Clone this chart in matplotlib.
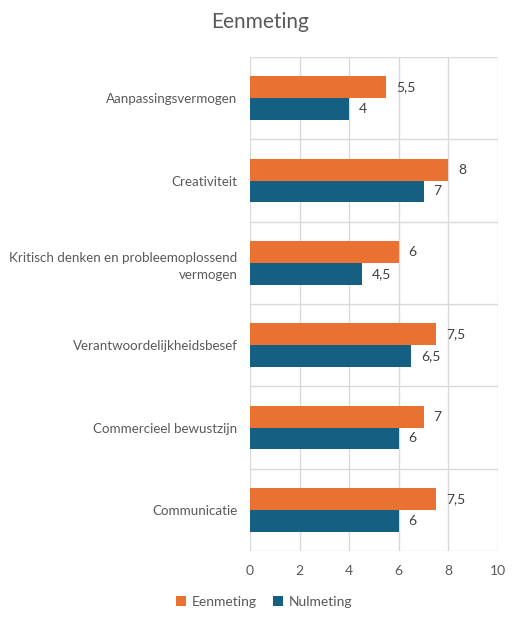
import matplotlib
matplotlib.use("Agg")
import matplotlib.pyplot as plt
import numpy as np

categories = ["Aanpassingsvermogen", "Creativiteit",
              "Kritisch denken en probleemoplossend\nvermogen",
              "Verantwoordelijkheidsbesef", "Commercieel bewustzijn", "Communicatie"]
eenmeting = [5.5, 8, 6, 7.5, 7, 7.5]
nulmeting = [4, 7, 4.5, 6.5, 6, 6]
xticks = [0, 2, 4, 6, 8, 10]

orange = "#E97132"
blue = "#156082"
grid_c = "#D9D9D9"
text_c = "#595959"

plt.rcParams['font.family'] = ['Lato', 'DejaVu Sans']

fig = plt.figure(figsize=(5.21, 6.22), dpi=100)
ax = fig.add_axes([250/521, 1-551/622, 248/521, (551-57)/622])

n = len(categories)
y = np.arange(n)
h = 0.265
ax.barh(y - h/2, eenmeting, height=h, color=orange, label="Eenmeting", zorder=3)
ax.barh(y + h/2, nulmeting, height=h, color=blue, label="Nulmeting", zorder=3)

def fmt(v):
    s = f"{v:g}"
    return s.replace(".", ",")

for yi, v in zip(y, eenmeting):
    ax.text(v + 0.4, yi - h/2, fmt(v), va="center", ha="left", fontsize=10, color="#404040")
for yi, v in zip(y, nulmeting):
    ax.text(v + 0.4, yi + h/2, fmt(v), va="center", ha="left", fontsize=10, color="#404040")

ax.set_xlim(0, 10)
ax.set_ylim(n - 0.5, -0.5)
ax.set_xticks(xticks)
ax.set_xticklabels([str(t) for t in xticks], fontsize=10, color=text_c)
ax.set_yticks(y)
ax.set_yticklabels(categories, fontsize=9.6, color=text_c, linespacing=1.5)
ax.tick_params(axis="both", length=0)
ax.tick_params(axis="x", pad=10)
ax.tick_params(axis="y", pad=9)
for t in ax.get_yticklabels():
    t.set_multialignment("right")

for xv in xticks:
    ax.axvline(xv, color=grid_c, lw=1, zorder=1)
for b in np.arange(-0.5, n, 1.0):
    ax.axhline(b, color=grid_c, lw=1, zorder=1)
for s in ax.spines.values():
    s.set_visible(False)

fig.text(0.5, 1-22/622, "Eenmeting", ha="center", va="center", fontsize=15, color=text_c)

handles, labels = ax.get_legend_handles_labels()
fig.legend(handles, labels, loc="center", bbox_to_anchor=(0.507, 1-602/622), ncol=2,
           frameon=False, fontsize=10, labelcolor=text_c, handlelength=0.7, handleheight=0.7,
           handletextpad=0.4, columnspacing=1.2)

fig.savefig("out.png", dpi=100)
